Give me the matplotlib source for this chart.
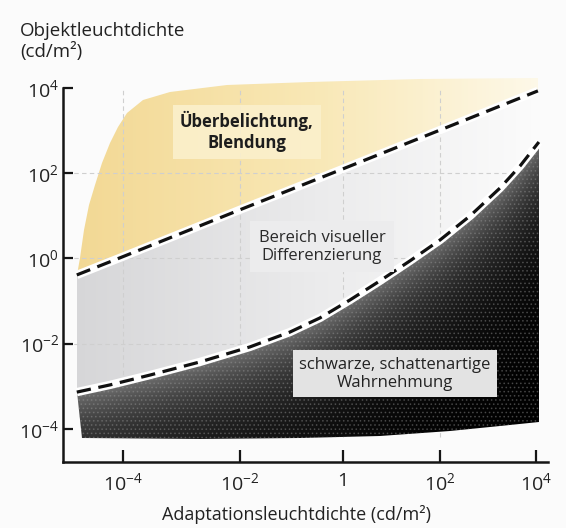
import numpy as np
import matplotlib
matplotlib.use("Agg")
import matplotlib.pyplot as plt
from matplotlib.colors import LinearSegmentedColormap
from matplotlib.ticker import NullLocator

plt.rcParams["font.family"] = ["Open Sans", "DejaVu Sans"]
plt.rcParams["mathtext.fontset"] = "custom"
plt.rcParams["mathtext.rm"] = "Open Sans"
plt.rcParams["mathtext.it"] = "Open Sans:italic"
plt.rcParams["mathtext.bf"] = "Open Sans:bold"
plt.rcParams["hatch.linewidth"] = 0.7

# region boundaries, in decades (log10 cd/m^2)
glare_x = [-4.79, -4.0, -2.0, 0.0, 2.0, 4.04]
glare_y = [-0.39, 0.04, 1.14, 2.10, 3.01, 3.93]

black_x = [-4.79, -4.22, -3.54, -2.68, -1.81, -1.03, -0.45, 0.14, 0.76, 1.38,
           2.00, 2.63, 3.25, 3.67, 4.06]
black_y = [-3.14, -2.97, -2.74, -2.43, -2.08, -1.73, -1.40, -0.98, -0.53, -0.06,
           0.43, 1.00, 1.65, 2.17, 2.73]

yellow_top_x = [-4.74, -4.67, -4.58, -4.48, -4.36, -4.22, -4.09, -3.93, -3.66,
                -3.20, -2.22, -0.64, 1.59, 4.04]
yellow_top_y = [0.01, 0.67, 1.25, 1.72, 2.24, 2.71, 3.08, 3.41, 3.72,
                3.91, 4.07, 4.14, 4.21, 4.23]

dark_bottom_x = [-4.70, -2.68, -0.83, 0.76, 2.21, 3.25, 4.06]
dark_bottom_y = [-4.22, -4.24, -4.22, -4.17, -4.05, -3.93, -3.84]

tick_exp = [-4, -2, 0, 2, 4]
xtick_labels = [r"$10^{-4}$", r"$10^{-2}$", "1", r"$10^{2}$", r"$10^{4}$"]
ytick_labels = [r"$10^{-4}$", r"$10^{-2}$", r"$10^{0}$", r"$10^{2}$", r"$10^{4}$"]

# the drawn x axis is not evenly spaced per decade: map decades to pixels
TICK_PX = np.array([123.0, 240.0, 343.0, 440.0, 536.0])


def fwd(v):
    e = np.log10(np.clip(v, 1e-30, None))
    lo = TICK_PX[0] + (e + 4) * 58.5
    hi = TICK_PX[-1] + (e - 4) * 48.0
    return np.where(e < -4, lo, np.where(e > 4, hi, np.interp(e, tick_exp, TICK_PX)))


def inv(p):
    p = np.asarray(p, dtype=float)
    lo = -4 + (p - TICK_PX[0]) / 58.5
    hi = 4 + (p - TICK_PX[-1]) / 48.0
    e = np.where(p < TICK_PX[0], lo,
                 np.where(p > TICK_PX[-1], hi, np.interp(p, TICK_PX, tick_exp)))
    return 10.0 ** e


def dec(a):
    return 10.0 ** np.asarray(a, dtype=float)


fig = plt.figure(figsize=(5.66, 5.28), dpi=100, facecolor="#fbfbfb")
ax = fig.add_axes([63 / 566, 66 / 528, 485 / 566, 392 / 528])
ax.set_facecolor("none")
ax.set_xscale("function", functions=(fwd, inv))
ax.set_yscale("log")
ax.set_xlim(float(inv(63)), float(inv(548)))
ylo, yhi = 10 ** -4.78, 10 ** 4.42
ax.set_ylim(ylo, yhi)


def region(xe, ye):
    return ax.fill(dec(xe), dec(ye), facecolor="none", edgecolor="none")[0]


yellow = region(yellow_top_x + glare_x[::-1], yellow_top_y + glare_y[::-1])
grey = region(glare_x + black_x[::-1], glare_y + black_y[::-1])
dark = region(black_x + dark_bottom_x[::-1], black_y + dark_bottom_y[::-1])

# colour gradients, clipped to the regions
ex = np.linspace(-5.03, 4.25, 300)
ey = np.linspace(-4.78, 4.42, 300)
EX, EY = np.meshgrid(ex, ey)
X, Y = 10.0 ** EX, 10.0 ** EY
t = np.clip((fwd(X) - 79) / (538 - 79), 0, 1)

ycmap = LinearSegmentedColormap.from_list("y", ["#f2d894", "#f8e7b4", "#fdf8e8"])
m = ax.pcolormesh(X, Y, t, cmap=ycmap, vmin=0, vmax=1, shading="nearest", zorder=1)
m.set_clip_path(yellow)

gcmap = LinearSegmentedColormap.from_list("g", ["#d6d6d8", "#eaeaeb", "#fbfbfb"])
m = ax.pcolormesh(X, Y, t, cmap=gcmap, vmin=0, vmax=1, shading="nearest", zorder=1)
m.set_clip_path(grey)

depth = np.interp(EX, black_x, black_y) - EY
shade = 0.45 * np.exp(-np.clip(depth, 0, None) / 1.3)
m = ax.pcolormesh(X, Y, shade, cmap="gray", vmin=0, vmax=1, shading="nearest", zorder=2)
m.set_clip_path(dark)
ax.fill(dec(black_x + dark_bottom_x[::-1]), dec(black_y + dark_bottom_y[::-1]),
        facecolor="none", edgecolor="#9a9a9a", hatch="....", lw=0, alpha=0.35, zorder=2.1)

# faint dashed grid
gx = dec(tick_exp[:-1])
ax.vlines(gx, 10 ** -4.2, 1e4, colors="#cfcfcf", lw=0.8, linestyles=(0, (4, 3)), zorder=1.5)
ax.hlines(dec([-2, 0, 2]), float(inv(66)), 10 ** 4.04, colors="#cfcfcf", lw=0.8,
          linestyles=(0, (4, 3)), zorder=1.5)

# threshold lines with white halo
for lx, ly in ((glare_x, glare_y), (black_x, black_y)):
    ax.plot(dec(lx), dec(ly), color="white", lw=6, solid_capstyle="butt", zorder=3)
    ax.plot(dec(lx), dec(ly), color="#111111", lw=2.3, dashes=(4.5, 2.4), zorder=4)

ax.text(float(inv(247)), 10 ** 2.97, "Überbelichtung,\nBlendung", ha="center", va="center",
        fontsize=12, fontweight="bold", color="#1d1d1d", linespacing=1.2, zorder=5,
        bbox=dict(boxstyle="square,pad=0.4", fc="#fbf0cc", ec="none", alpha=0.9))
ax.text(float(inv(322)), 10 ** 0.27, "Bereich visueller\nDifferenzierung", ha="center",
        va="center", fontsize=12, color="#2a2a2a", linespacing=1.2, zorder=5,
        bbox=dict(boxstyle="square,pad=0.5", fc="#ececed", ec="none"))
ax.text(float(inv(395)), 10 ** -2.71, "schwarze, schattenartige\nWahrnehmung", ha="center",
        va="center", fontsize=12, color="#222222", linespacing=1.15, zorder=5,
        bbox=dict(boxstyle="square,pad=0.4", fc="#e3e3e3", ec="none"))

for s in ("top", "right"):
    ax.spines[s].set_visible(False)
for s in ("left", "bottom"):
    ax.spines[s].set_linewidth(1.8)
    ax.spines[s].set_color("#151515")
ax.spines["left"].set_bounds(ylo, 1e4)

ax.set_xticks(dec(tick_exp), xtick_labels)
ax.set_yticks(dec(tick_exp), ytick_labels)
ax.xaxis.set_minor_locator(NullLocator())
ax.yaxis.set_minor_locator(NullLocator())
ax.tick_params(direction="in", width=1.6, color="#151515", labelsize=14, labelcolor="#222222")
ax.tick_params(axis="x", length=8.5, pad=7)
ax.tick_params(axis="y", length=7, pad=3)

fig.text(20 / 566, 1 - 22 / 528, "Objektleuchtdichte\n(cd/m²)", ha="left", va="top",
         fontsize=13.5, linespacing=1.1, color="#222222")
fig.text(297 / 566, 1 - 514 / 528, "Adaptationsleuchtdichte (cd/m²)", ha="center",
         va="center", fontsize=13, color="#222222")

fig.savefig("out.png", dpi=100, facecolor=fig.get_facecolor())
